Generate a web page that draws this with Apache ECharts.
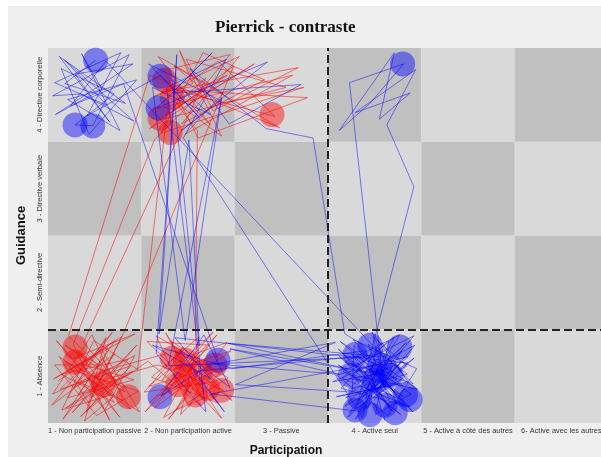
<!DOCTYPE html>
<html>
<head>
<meta charset="utf-8">
<script src="https://cdn.jsdelivr.net/npm/echarts@6/dist/echarts.min.js"></script>
<style>
  html, body { margin: 0; padding: 0; background: #ffffff; }
  #chart { position: absolute; left: 8px; top: 6px; width: 593px; height: 451px; }
</style>
</head>
<body>
<div id="chart"></div>
<script>
var participation = ['1 - Non participation passive', '2 - Non participation active', '3 - Passive',
  '4 - Active seul', '5 - Active à côté des autres', '6- Active avec les autres'];
var guidance = ['1 - Absence', '2 - Semi-directive', '3 - Directive verbale', '4 - Directive corporelle'];

// trajectories, x in [0,6] (one unit per participation level), y in [0,4]
var redPath = [
  [0.32,0.78],[0.71,0.22],[0.14,0.52],[0.86,0.68],[0.41,0.12],[0.62,0.91],[0.21,0.27],[0.92,0.46],[0.36,0.63],[0.77,0.06],
  [0.09,0.88],[0.54,0.36],[0.95,0.83],[0.26,0.11],[0.66,0.58],[0.05,0.31],[0.47,0.94],[0.81,0.24],[0.31,0.44],[0.72,0.74],
  [0.16,0.04],[0.58,0.69],[0.88,0.15],[0.12,0.71],[0.44,0.21],[0.79,0.92],[0.24,0.57],[0.97,0.34],[0.52,0.08],[0.07,0.62],
  [0.55,0.62],[0.18,0.83],[0.83,0.39],[0.39,0.02],[0.64,0.81],[0.06,0.47],[0.93,0.95],[0.27,0.69],[0.71,0.31],[0.15,0.14],
  [0.49,0.88],[0.96,0.57],
  [1.31,3.62],[1.74,3.18],[1.18,3.91],[1.88,3.52],[1.47,3.08],[2.62,3.71],[1.12,3.34],[1.82,3.86],[2.43,3.27],[1.38,3.55],
  [2.78,3.47],[1.61,3.04],[1.24,3.76],[1.95,3.93],[1.52,3.41],[2.21,3.83],[1.09,3.14],[1.69,3.68],
  [0.38,0.86],[0.83,0.33],[0.18,0.66],[0.61,0.14],[0.93,0.72],[0.28,0.38],[0.69,0.97],[0.04,0.19],[0.49,0.53],
  [1.27,0.74],[1.83,0.21],[1.11,0.49],[1.62,0.92],[1.42,0.09],[1.91,0.61],[1.21,0.29],[1.73,0.83],[1.06,0.87],[1.53,0.41],
  [1.86,0.05],[1.26,0.96],[1.66,0.26],[1.34,0.57],[1.96,0.77],[1.14,0.16],[1.57,0.71],[1.79,0.44],[1.03,0.33],[1.45,0.81],
  [1.22,0.45],[1.77,0.97],[1.04,0.12],[1.59,0.63],[1.97,0.24],[1.33,0.78],[1.85,0.52],[1.16,0.93],[1.51,0.17],[1.72,0.58],
  [1.08,0.39],[1.44,0.69],[1.92,0.86],[1.29,0.04],[1.63,0.45],
  [1.58,0.92],[1.60,3.12],[1.35,3.44],[1.92,3.71],[1.16,3.22],[2.55,3.58],[1.48,3.88],[1.77,3.33],[2.68,3.79],[1.22,3.53],
  [1.86,3.06],[1.41,3.97],[1.55,3.62],[1.13,3.48],[2.05,3.91],[1.43,3.19],[2.32,3.66],[1.66,3.95],[1.21,3.09],[2.74,3.58],
  [1.84,3.41],[1.35,3.81],[2.48,3.15],[1.09,3.71],
  [0.22,0.93],[0.74,0.41],[0.35,0.07],[0.89,0.61],[0.13,0.36],[0.57,0.79],[0.98,0.12],[0.42,0.48],[0.66,0.03],[0.27,0.84],
  [1.14,3.02],[1.71,3.59],[1.29,3.29],[1.99,3.81],
  [0.81,0.96],[0.46,0.27],[0.91,0.55],[0.19,0.16],[0.63,0.47],
  [1.18,0.62],[1.88,0.35],[1.37,0.14],[1.69,0.69],[1.09,0.22],[1.81,0.94],[1.49,0.53],[1.24,0.06],[1.93,0.48],[1.31,0.88],
  [1.64,0.18],[1.07,0.66],
  [0.86,0.51],[0.33,0.31],[0.72,0.88],[0.11,0.45]
];
var redCircles = [
  [0.29,0.81],[0.29,0.65],[0.59,0.41],[0.86,0.28],
  [1.33,0.69],[1.47,0.67],[1.63,0.54],[1.79,0.62],[1.39,0.41],[1.58,0.30],[1.71,0.37],[1.86,0.35],[1.47,0.51],
  [1.25,3.66],[1.33,3.47],[1.20,3.25],[1.31,3.10],
  [2.40,3.29]
];
var bluePath = [
  [0.51,3.87],[0.18,3.62],[0.83,3.41],[0.12,3.91],[0.66,3.21],[0.29,3.72],[0.91,3.83],[0.08,3.29],[0.58,3.56],[0.36,3.94],
  [0.77,3.12],[0.21,3.45],[0.95,3.66],[0.44,3.08],[0.14,3.78],[0.71,3.51],[0.29,3.18],[0.48,3.17],[0.87,3.93],[0.05,3.49],
  [0.35,3.51],[0.92,3.22],[0.18,3.87],[0.63,3.39],[0.07,3.63],[0.78,3.95],[0.42,3.28],
  [1.21,3.71],[1.62,3.26],[1.08,3.83],[1.85,3.44],[1.43,3.12],[2.35,3.85],[1.17,3.36],[1.76,3.95],[1.33,3.52],[2.71,3.61],
  [1.94,3.19],[1.52,3.78],[2.34,3.14],[2.84,3.04],[3.18,0.95],[3.60,0.70],
  [0.62,3.86],[0.24,3.38],[0.81,3.62],
  [1.82,0.67],[1.21,0.29],[1.67,0.94],[1.95,0.38],[1.41,0.78],[1.89,0.12],[1.56,0.55],
  [3.45,0.72],[1.93,0.85],[3.21,0.58],[1.75,0.31],[3.38,0.12],
  [3.52,0.81],[3.91,0.42],[3.18,0.65],[3.77,0.94],[3.33,0.24],[3.86,0.71],[3.09,0.51],[3.64,0.08],[3.95,0.58],[3.27,0.89],
  [3.71,0.33],[3.41,0.62],[3.88,0.17],[3.14,0.37],[3.58,0.86],[3.82,0.49],[3.23,0.11],[3.67,0.72],[3.46,0.28],[3.93,0.83],
  [3.36,0.53],[3.11,0.79],[3.74,0.21],[3.55,0.46],[3.29,0.04],[3.84,0.61],[3.48,0.92],[3.62,0.39],[3.19,0.27],[3.79,0.77],
  [3.42,0.15],[3.57,0.66],[3.05,0.44],[3.69,0.55],[3.31,0.71],[3.89,0.31],[3.51,0.09],[3.65,0.88],[3.24,0.47],[3.72,0.42],
  [3.44,0.35],[3.61,0.51],
  [1.95,0.79],[3.12,0.52],[1.78,0.63],[3.08,0.86],[2.01,0.41],[3.26,0.33],
  [3.28,0.83],[3.83,0.19],[3.15,0.48],[3.71,0.91],[3.39,0.31],[3.92,0.69],[3.21,0.06],[3.63,0.61],[3.47,0.97],[3.86,0.44],
  [3.09,0.28],[3.56,0.38],[3.78,0.65],[3.33,0.59],[3.67,0.16],[3.25,0.74],[3.91,0.12],[3.52,0.54],[3.13,0.87],[3.74,0.47],
  [3.41,0.21],[3.59,0.79],[3.36,0.41],[3.84,0.86],[3.18,0.18],[3.66,0.44],[3.49,0.68],[3.96,0.36],[3.27,0.51],[3.61,0.03],
  [3.44,0.57],[3.81,0.28],[3.12,0.71],[3.55,0.32],[3.73,0.62],[3.38,0.48],[3.62,0.46],[3.47,0.39],[3.58,0.52],
  [3.23,3.63],[3.81,3.83],[3.45,3.41],[3.12,3.12],[3.71,3.95],[3.55,3.24],[3.88,3.52],[3.29,3.31],[3.94,3.77],[3.63,3.18],
  [3.92,2.52],[3.52,0.98],[3.31,0.19],[3.86,0.64],
  [1.36,0.91],[1.74,0.47],[1.12,0.83],[1.98,0.58],
  [3.39,0.77],[3.75,0.26],[3.16,0.55],[3.92,0.93],[3.49,0.42],[3.68,0.13],[3.26,0.66],[3.81,0.39],[3.54,0.61],[3.37,0.06],
  [1.45,3.04],[1.91,3.88],[1.27,3.58],
  [1.69,0.12],[1.16,0.74],
  [1.38,3.93],[1.19,0.95],[1.51,3.02],[1.62,0.82],[1.33,3.66],[1.74,3.29],[1.12,3.58],[1.47,0.88],[1.86,3.47],[1.29,0.61],
  [3.57,0.71],[3.22,0.36],[3.85,0.52],[3.43,0.84],[3.66,0.24],[3.11,0.62],[3.78,0.09],[3.34,0.45],[3.59,0.57],[3.47,0.49]
];
var blueCircles = [
  [0.51,3.87],[0.29,3.18],[0.48,3.17],
  [1.20,3.70],[1.18,3.36],
  [3.80,3.83],
  [1.82,0.67],[1.20,0.28],
  [3.29,0.73],[3.45,0.83],[3.77,0.81],[3.24,0.51],[3.50,0.46],[3.67,0.51],[3.83,0.30],[3.34,0.27],
  [3.61,0.19],[3.88,0.25],[3.45,0.09],[3.72,0.11],[3.29,0.14],[3.56,0.62]
];

// checkerboard cells
var cells = [];
participation.forEach(function (p, i) {
  guidance.forEach(function (g, j) {
    cells.push([i, j, (i + j) % 2 === 0 ? 1 : 0]);
  });
});

var chart = echarts.init(document.getElementById('chart'));
var lblFont = 'Liberation Sans';

chart.setOption({
  backgroundColor: '#efefef',
  animation: false,
  title: {
    text: 'Pierrick - contraste',
    left: 202, top: 8,
    textStyle: { fontFamily: 'Liberation Serif', fontWeight: 'bold', fontSize: 17, color: '#111' }
  },
  grid: { left: 40, top: 42, width: 560, height: 375, outerBoundsMode: 'none' },
  xAxis: [{
    type: 'category', data: participation, position: 'bottom',
    axisLine: { show: false }, axisTick: { show: false }, splitLine: { show: false },
    axisLabel: { interval: 0, fontSize: 7.4, color: '#333', fontFamily: lblFont, margin: 4 },
    name: 'Participation', nameLocation: 'middle', nameGap: 22,
    nameTextStyle: { fontFamily: lblFont, fontWeight: 'bold', fontSize: 12, color: '#111', padding: [0, 84, 0, 0] }
  }, {
    type: 'value', min: 0, max: 6, show: false
  }],
  yAxis: [{
    type: 'category', data: guidance,
    axisLine: { show: false }, axisTick: { show: false }, splitLine: { show: false },
    axisLabel: { interval: 0, rotate: 90, fontSize: 7.6, color: '#333', fontFamily: lblFont, margin: 4 },
    name: 'Guidance', nameLocation: 'middle', nameGap: 20, nameRotate: 90,
    nameTextStyle: { fontFamily: lblFont, fontWeight: 'bold', fontSize: 13, color: '#111' }
  }, {
    type: 'value', min: 0, max: 4, show: false
  }],
  series: [{
    type: 'custom', xAxisIndex: 1, yAxisIndex: 1, silent: true,
    data: cells,
    renderItem: function (params, api) {
      var p0 = api.coord([api.value(0), api.value(1) + 1]);
      var p1 = api.coord([api.value(0) + 1, api.value(1)]);
      return {
        type: 'rect',
        shape: { x: p0[0], y: p0[1], width: p1[0] - p0[0], height: p1[1] - p0[1] },
        style: { fill: api.value(2) ? '#c0c0c0' : '#d9d9d9' }
      };
    }
  }, {
    type: 'line', xAxisIndex: 1, yAxisIndex: 1, data: redPath,
    showSymbol: false, lineStyle: { color: 'rgba(255,0,0,0.65)', width: 0.8 }
  }, {
    type: 'scatter', xAxisIndex: 1, yAxisIndex: 1, data: redCircles,
    symbolSize: 25, itemStyle: { color: 'rgba(255,0,0,0.55)' }
  }, {
    type: 'line', xAxisIndex: 1, yAxisIndex: 1, data: bluePath,
    showSymbol: false, lineStyle: { color: 'rgba(0,0,255,0.6)', width: 0.8 }
  }, {
    type: 'scatter', xAxisIndex: 1, yAxisIndex: 1, data: blueCircles,
    symbolSize: 25, itemStyle: { color: 'rgba(0,0,255,0.55)' }
  }, {
    type: 'line', xAxisIndex: 1, yAxisIndex: 1, data: [], silent: true,
    markLine: {
      symbol: 'none', silent: true, label: { show: false },
      lineStyle: { type: 'dashed', color: '#222', width: 2 },
      data: [{ xAxis: 3 }, { yAxis: 1 }]
    }
  }]
});
</script>
</body>
</html>
